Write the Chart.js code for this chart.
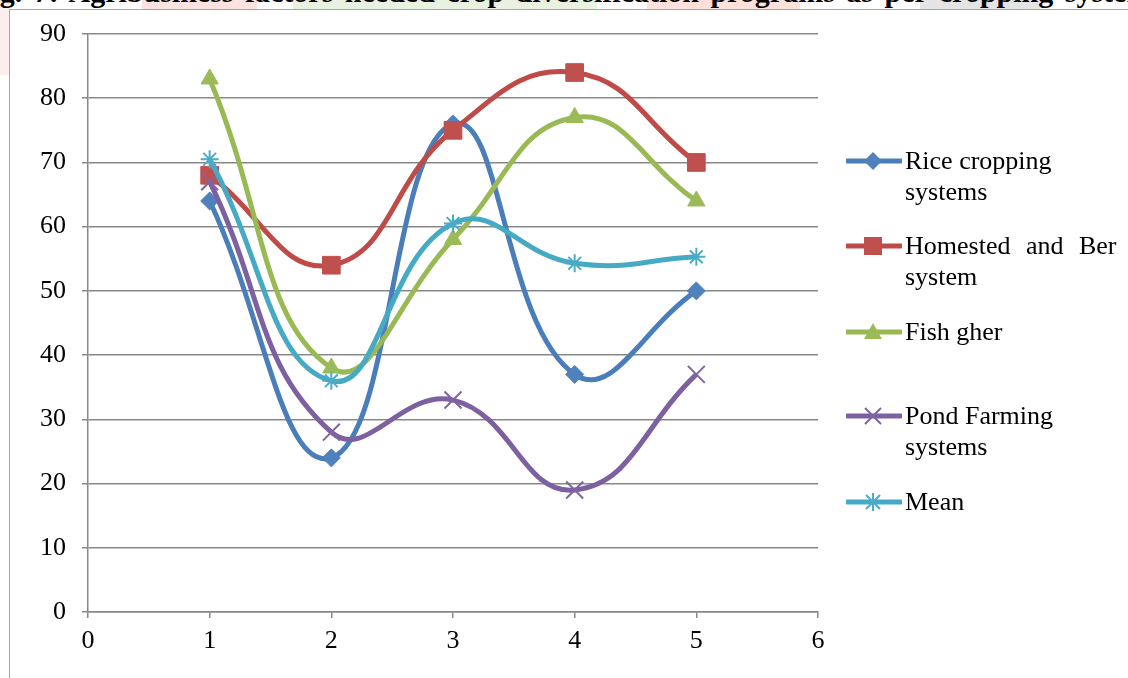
<!DOCTYPE html>
<html>
<head>
<meta charset="utf-8">
<script src="https://cdn.jsdelivr.net/npm/chart.js@4.4.1/dist/chart.umd.min.js"></script>
<style>
  html, body { margin: 0; padding: 0; background: #fff; }
  body { width: 1128px; height: 678px; position: relative; overflow: hidden; font-family: "Liberation Serif", "Times New Roman", serif; }
  .wm { position: absolute; }
  #title { position: absolute; left: -27px; top: -23px; white-space: nowrap; font-weight: bold; font-size: 30px; line-height: 30px; word-spacing: 4px; color: #000; }
  #frame { position: absolute; left: 9px; top: 9px; width: 1400px; height: 900px; border: 1.5px solid #a6a6a6; background: #fff; }
  #chart { position: absolute; left: 0; top: 0; }
  .leg { position: absolute; left: 846px; font-size: 26px; line-height: 31px; color: #000; }
  .leg svg { position: absolute; left: 0; }
  .leg .txt { position: absolute; left: 59px; white-space: nowrap; }
</style>
</head>
<body>
<div class="wm" style="left:0;top:0;width:9px;height:75px;background:#fdeeee"></div>
<div class="wm" style="left:142px;top:0;width:115px;height:9px;background:#fde3e0"></div>
<div class="wm" style="left:293px;top:0;width:304px;height:9px;background:#e9f2e0"></div>
<div class="wm" style="left:647px;top:0;width:153px;height:9px;background:#fde1da"></div>
<div class="wm" style="left:920px;top:0;width:120px;height:9px;background:#e4e4e4"></div>
<div id="title">Fig. 7: Agribusiness factors needed crop diversification programs as per cropping system</div>
<div id="frame"></div>
<canvas id="chart" width="1128" height="678"></canvas>
<div id="legend"></div>
<script>
'use strict';

// x positions (cropping system number)
const xValues = [1, 2, 3, 4, 5];

// series values
const riceCropping = [64, 24, 76, 37, 50];
const homestedBer = [68, 54, 75, 84, 70];
const fishGher = [83, 38, 58, 77, 64];
const pondFarming = [67, 28, 33, 19, 37];
const meanValues = [70.5, 36, 60.5, 54.3, 55.3];

// axis ticks
const xTicks = [0, 1, 2, 3, 4, 5, 6];
const yTicks = [0, 10, 20, 30, 40, 50, 60, 70, 80, 90];

const seriesInfo = [
    { label: ['Rice cropping', 'systems'], data: riceCropping, line: '#4A7EBB', fill: '#4F81BD', marker: 'rectRot', radius: 9, bw: 1 },
    { label: ['Homested and Ber', 'system'], data: homestedBer, line: '#BE4B48', fill: '#C0504D', marker: 'rect', radius: 12.5, bw: 1 },
    { label: ['Fish gher'], data: fishGher, line: '#98B954', fill: '#9BBB59', marker: 'triangle', radius: 10, bw: 1 },
    { label: ['Pond Farming', 'systems'], data: pondFarming, line: '#7D60A0', fill: '#8064A2', marker: 'crossRot', radius: 12, bw: 2 },
    { label: ['Mean'], data: meanValues, line: '#46AAC5', fill: '#4BACC6', marker: 'star', radius: 9, bw: 2 }
];

const legendY = [161, 246, 332, 416, 502];

const gridColor = '#888888';
const tickFont = { family: '"Liberation Serif", "Times New Roman", serif', size: 26 };

const datasets = seriesInfo.map((s, i) => ({
    label: s.label.join(' '),
    data: s.data.map((v, j) => ({ x: xValues[j], y: v })),
    borderColor: s.line,
    borderWidth: 5,
    tension: 0.45,
    pointStyle: s.marker,
    pointRadius: s.radius,
    pointBackgroundColor: s.fill,
    pointBorderColor: s.fill,
    pointBorderWidth: s.bw,
    order: 10 - i,  // later series drawn on top, like the original
    clip: false
}));

new Chart(document.getElementById('chart').getContext('2d'), {
    type: 'line',
    data: { datasets: datasets },
    options: {
        responsive: false,
        animation: false,
        layout: { padding: { left: 0, right: 310, top: 34, bottom: 0 } },
        plugins: { legend: { display: false }, tooltip: { enabled: false } },
        scales: {
            x: {
                type: 'linear',
                min: 0,
                max: 6,
                afterBuildTicks: scale => { scale.ticks = xTicks.map(v => ({ value: v })); },
                afterFit: scale => { scale.height = 66; },
                grid: { drawOnChartArea: false, drawTicks: true, tickLength: 6, color: gridColor, lineWidth: 1.5 },
                border: { color: gridColor, width: 1.5 },
                ticks: { font: tickFont, color: '#000', padding: 8, maxRotation: 0 }
            },
            y: {
                type: 'linear',
                min: 0,
                max: 90,
                afterBuildTicks: scale => { scale.ticks = yTicks.map(v => ({ value: v })); },
                afterFit: scale => { scale.width = 88; },
                grid: { drawOnChartArea: true, drawTicks: true, tickLength: 6, color: gridColor, lineWidth: 1.5 },
                border: { color: gridColor, width: 1.5 },
                ticks: { font: tickFont, color: '#000', padding: 16 }
            }
        }
    }
});

// legend with line + marker symbols
function markerSvg(s) {
    const cx = 27, cy = 10, c = s.fill;
    if (s.marker === 'rectRot') return `<polygon points="${cx},${cy - 9} ${cx + 9},${cy} ${cx},${cy + 9} ${cx - 9},${cy}" fill="${c}"/>`;
    if (s.marker === 'rect') return `<rect x="${cx - 9}" y="${cy - 9}" width="18" height="18" fill="${c}"/>`;
    if (s.marker === 'triangle') return `<polygon points="${cx},${cy - 9} ${cx + 9},${cy + 7} ${cx - 9},${cy + 7}" fill="${c}"/>`;
    if (s.marker === 'crossRot') return `<path d="M${cx - 8} ${cy - 8}L${cx + 8} ${cy + 8}M${cx + 8} ${cy - 8}L${cx - 8} ${cy + 8}" stroke="${c}" stroke-width="2"/>`;
    return `<path d="M${cx} ${cy - 9}L${cx} ${cy + 9}M${cx - 7} ${cy - 7}L${cx + 7} ${cy + 7}M${cx + 7} ${cy - 7}L${cx - 7} ${cy + 7}" stroke="${c}" stroke-width="2"/>`;
}

const legendEl = document.getElementById('legend');
seriesInfo.forEach((s, i) => {
    const item = document.createElement('div');
    item.className = 'leg';
    item.style.top = (legendY[i] - 16) + 'px';
    const lines = s.label.map((t, k) => (i === 1 && k === 0) ? `<span style="word-spacing:9px">${t}</span>` : t);
    item.innerHTML =
        `<svg width="56" height="20" style="top:6px"><line x1="1" y1="10" x2="55" y2="10" stroke="${s.line}" stroke-width="5" stroke-linecap="round"/>${markerSvg(s)}</svg>` +
        `<div class="txt">${lines.join('<br>')}</div>`;
    legendEl.appendChild(item);
});
</script>
</body>
</html>
